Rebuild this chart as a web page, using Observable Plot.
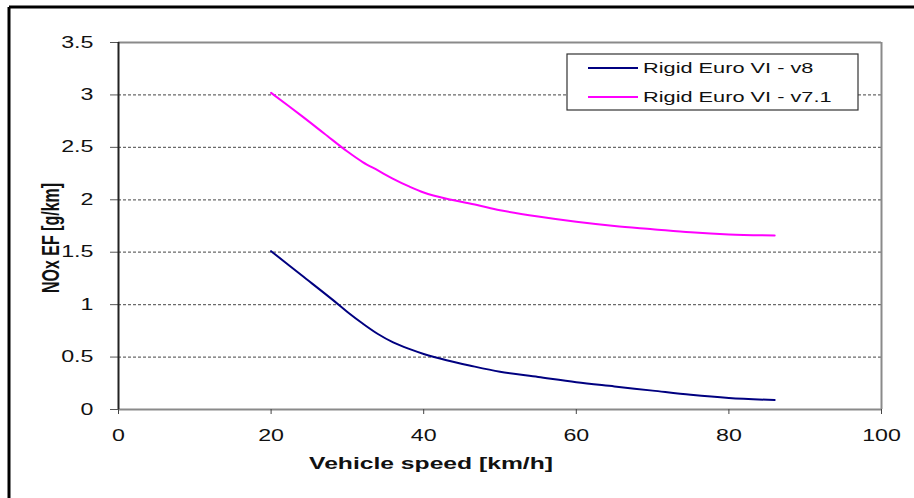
<!DOCTYPE html>
<html>
<head>
<meta charset="utf-8">
<script src="https://cdn.jsdelivr.net/npm/d3@7"></script>
<script src="https://cdn.jsdelivr.net/npm/@observablehq/plot@0.6"></script>
<style>
  html, body { margin: 0; padding: 0; background: #fff; }
  #chart { width: 914px; height: 498px; overflow: hidden; }
</style>
</head>
<body>
<div id="chart"></div>
<script>
// ---- data ----
const seriesNames = ["Rigid Euro VI - v8", "Rigid Euro VI - v7.1"];
const seriesColors = ["#000080", "#ff00ff"];

const speedV8 = [20, 24, 28, 30, 32, 34, 36, 38, 40, 43, 46, 50, 55, 60, 65, 70, 75, 80, 86];
const efV8    = [1.51, 1.28, 1.05, 0.93, 0.82, 0.72, 0.64, 0.58, 0.53, 0.47, 0.42, 0.36, 0.31, 0.26, 0.22, 0.18, 0.14, 0.11, 0.09];

const speedV71 = [20, 24, 27, 30, 32, 34, 36, 38, 40, 43, 47, 50, 55, 60, 65, 70, 75, 80, 86];
const efV71    = [3.02, 2.80, 2.63, 2.46, 2.36, 2.28, 2.20, 2.13, 2.07, 2.01, 1.95, 1.90, 1.84, 1.79, 1.75, 1.72, 1.69, 1.67, 1.66];

const xTicks = [0, 20, 40, 60, 80, 100];
const yTicks = [0, 0.5, 1, 1.5, 2, 2.5, 3, 3.5];
const gridY  = [0.5, 1, 1.5, 2, 2.5, 3];

const xLabel = "Vehicle speed [km/h]";
const yLabel = "NOx EF [g/km]";

// ---- build table ----
const rows = [
  ...speedV8.map((s, i) => ({speed: s, ef: efV8[i], series: seriesNames[0]})),
  ...speedV71.map((s, i) => ({speed: s, ef: efV71[i], series: seriesNames[1]}))
];

const W = 914, H = 498;
const mL = 118, mR = 33, mT = 42, mB = 89;

const chart = Plot.plot({
  width: W,
  height: H,
  marginLeft: mL,
  marginRight: mR,
  marginTop: mT,
  marginBottom: mB,
  style: {fontFamily: "'Liberation Sans', Arial, sans-serif", fontSize: "16px", color: "#111", background: "#fff", overflow: "visible"},
  x: {domain: [0, 100], ticks: xTicks},
  y: {domain: [0, 3.5], ticks: yTicks},
  color: {domain: seriesNames, range: seriesColors},
  marks: [
    Plot.ruleY(gridY, {stroke: "#6a6a6a", strokeDasharray: "3,2", strokeWidth: 1.2}),
    Plot.ruleY([3.5], {stroke: "#8a8a8a", strokeWidth: 2}),
    Plot.ruleX([100], {stroke: "#8a8a8a", strokeWidth: 2}),
    Plot.ruleY([0], {stroke: "#8a8a8a", strokeWidth: 2}),
    Plot.axisY({ticks: yTicks, tickSize: 8, tickPadding: 17, label: null, stroke: "#555", fontSize: 16, tickFormat: d => String(d)}),
    Plot.axisX({ticks: xTicks, tickSize: 5, tickPadding: 15, label: null, stroke: "#444", fontSize: 16, tickFormat: d => String(d)}),
    Plot.ruleX([0], {stroke: "#222", strokeWidth: 2}),
    Plot.line(rows, {x: "speed", y: "ef", z: "series", stroke: "series", strokeWidth: 2, curve: "catmull-rom"})
  ]
});

document.getElementById("chart").appendChild(chart);

const svg = d3.select(chart);

// outer frame (top and left edges visible in reference)
svg.append("line").attr("x1", 9).attr("x2", W + 10).attr("y1", 7).attr("y2", 7)
  .attr("stroke", "#000").attr("stroke-width", 3);
svg.append("line").attr("x1", 9).attr("x2", 9).attr("y1", 7).attr("y2", H + 10)
  .attr("stroke", "#000").attr("stroke-width", 3);

// x label
svg.append("text")
  .attr("x", 431).attr("y", 469)
  .attr("text-anchor", "middle")
  .attr("font-weight", "bold").attr("font-size", 17)
  .attr("fill", "#111")
  .text(xLabel);

// y label (rotated, stretched horizontally like the reference)
svg.append("text")
  .attr("transform", "translate(51,238) scale(1.45,1) rotate(-90)")
  .attr("text-anchor", "middle")
  .attr("dy", "0.35em")
  .attr("font-weight", "bold").attr("font-size", 16)
  .attr("fill", "#111")
  .text(yLabel);

// legend
const lg = svg.append("g").attr("text-anchor", "start");
lg.append("rect").attr("x", 567).attr("y", 54).attr("width", 291).attr("height", 56)
  .attr("fill", "#fff").attr("stroke", "#333").attr("stroke-width", 1.2);
seriesNames.forEach((name, i) => {
  const yy = 68 + i * 29;
  lg.append("line").attr("x1", 588).attr("x2", 638).attr("y1", yy).attr("y2", yy)
    .attr("stroke", seriesColors[i]).attr("stroke-width", 2);
  lg.append("text").attr("x", 643).attr("y", yy).attr("dy", "0.36em")
    .attr("text-anchor", "start")
    .attr("font-size", 15).attr("fill", "#111")
    .text(name);
});

// the reference image is stretched horizontally: widen horizontal text
const STRETCH = 1.45;
chart.querySelectorAll("text").forEach(t => {
  if (t.getAttribute("transform") && t.getAttribute("transform").includes("rotate")) return;
  const len = t.getComputedTextLength();
  if (len > 0) {
    t.setAttribute("textLength", (len * STRETCH).toFixed(1));
    t.setAttribute("lengthAdjust", "spacingAndGlyphs");
  }
});
</script>
</body>
</html>
